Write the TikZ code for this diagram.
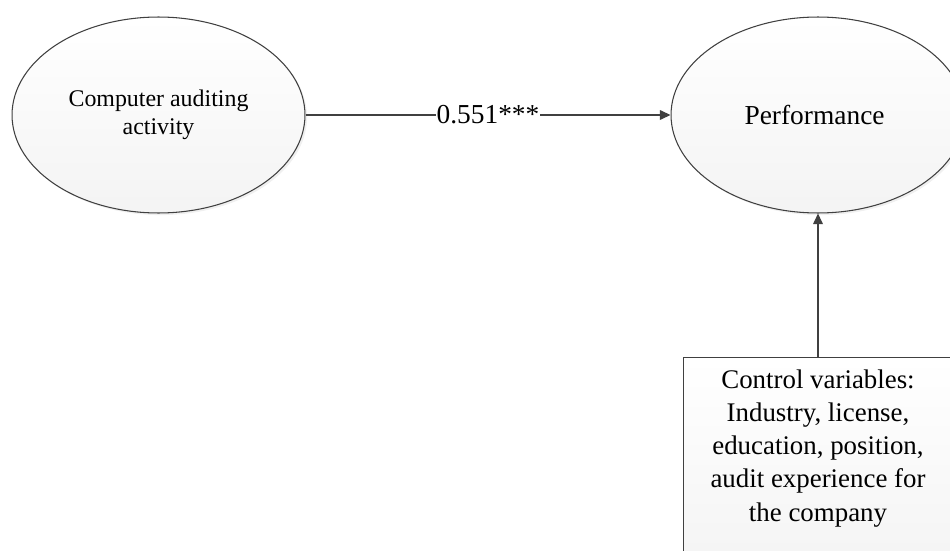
\documentclass[tikz,border=0pt]{standalone}
\usepackage{fontspec}
\setmainfont{Liberation Serif}
\usetikzlibrary{positioning,arrows.meta,shapes.geometric,shadows}
\definecolor{linegray}{HTML}{404040}
\tikzset{
construct/.style={
  ellipse, draw=linegray, line width=0.6pt,
  top color=white, bottom color=gray!9,
  drop shadow={shadow xshift=1.2pt, shadow yshift=-1.2pt, opacity=0.12},
  align=center, inner sep=0pt
  },
ctrlbox/.style={
  rectangle, draw=linegray, line width=0.6pt,
  top color=white, bottom color=gray!9,
  anchor=north west, inner sep=0pt
  },
path/.style={
  draw=linegray, line width=0.7pt,
  -{Triangle[length=6pt,width=5.5pt]}
  }
}

\begin{document}
\begin{tikzpicture}[x=0.02cm,y=-0.02cm]
\useasboundingbox (0,0) rectangle (950,551);

% constructs

\node[construct, minimum width=5.86cm, minimum height=3.92cm,
  font=\fontsize{13.6}{15.9}\selectfont] (cau) at (158.5,115)
{
   Computer auditing\\activity
};

\node[construct, minimum width=5.88cm, minimum height=3.92cm,
  font=\fontsize{15.6}{18}\selectfont] (perf) at (818,115)
{
   Performance
};

% control variables

\node[ctrlbox, minimum width=5.6cm, minimum height=4.46cm] (ctrl) at (683,357) {};

\node[below=7pt of ctrl.north west -| perf.south, anchor=north, align=center,
  inner sep=0pt, font=\fontsize{15.3}{18.9}\selectfont] (ctrltext)
{
   Control variables:\\
   Industry, license,\\
   education, position,\\
   audit experience for\\
   the company
};

% paths

\draw[path] (cau.east) -- node[fill=white, inner xsep=0.5pt, inner ysep=1pt,
  font=\fontsize{15.6}{18}\selectfont] (coef) {0.551***} (perf.west);

\draw[path] (ctrl.north west -| perf.south) -- (perf.south);

\end{tikzpicture}
\end{document}
